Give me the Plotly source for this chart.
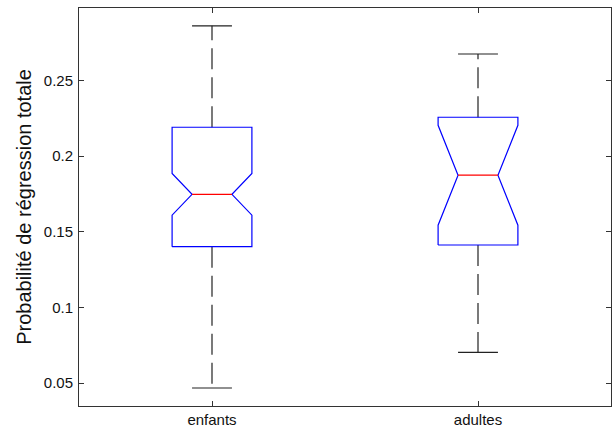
import plotly.graph_objects as go

categories = ["enfants", "adultes"]
positions = [1, 2]
q1 = [0.1401, 0.1412]
median = [0.1747, 0.1873]
q3 = [0.2190, 0.2256]
notch_half = [0.0138, 0.0330]
whisker_low = [0.0467, 0.0702]
whisker_high = [0.2860, 0.2674]

box_half = 0.15
notch_frac = 0.5
cap_half = 0.075

fig = go.Figure()
for i, x in enumerate(positions):
    lo = median[i] - notch_half[i]
    hi = median[i] + notch_half[i]
    w = box_half
    nw = box_half * notch_frac
    xs = [x - w, x - w, x - nw, x - w, x - w, x + w, x + w, x + nw, x + w, x + w, x - w]
    ys = [q1[i], lo, median[i], hi, q3[i], q3[i], hi, median[i], lo, q1[i], q1[i]]
    fig.add_trace(go.Scatter(x=[x, x], y=[q3[i], whisker_high[i]], mode="lines",
                             line=dict(color="#222", width=1.2, dash="21px,8px"),
                             showlegend=False, hoverinfo="skip"))
    fig.add_trace(go.Scatter(x=[x, x], y=[q1[i], whisker_low[i]], mode="lines",
                             line=dict(color="#222", width=1.2, dash="21px,8px"),
                             showlegend=False, hoverinfo="skip"))
    fig.add_trace(go.Scatter(x=[x - cap_half, x + cap_half], y=[whisker_high[i]] * 2, mode="lines",
                             line=dict(color="#222", width=1.2), showlegend=False, hoverinfo="skip"))
    fig.add_trace(go.Scatter(x=[x - cap_half, x + cap_half], y=[whisker_low[i]] * 2, mode="lines",
                             line=dict(color="#222", width=1.2), showlegend=False, hoverinfo="skip"))
    fig.add_trace(go.Scatter(x=xs, y=ys, mode="lines", line=dict(color="#0000ff", width=1.2),
                             showlegend=False, hoverinfo="skip"))
    fig.add_trace(go.Scatter(x=[x - nw, x + nw], y=[median[i]] * 2, mode="lines",
                             line=dict(color="#ff0000", width=1.2), showlegend=False, hoverinfo="skip"))

axis_common = dict(showgrid=False, zeroline=False, showline=True, linecolor="#333", linewidth=1,
                   mirror="ticks", ticks="inside", ticklen=5, tickcolor="#333", automargin=False,
                   tickfont=dict(family="Liberation Sans, Arial", size=15, color="#111"))

fig.update_xaxes(range=[0.5, 2.5], tickvals=positions, ticktext=categories, **axis_common)
fig.update_yaxes(range=[0.0348, 0.2978], tick0=0.05, dtick=0.05, ticklabelstandoff=2,
                 title=dict(text="Probabilité de régression totale",
                            font=dict(family="Liberation Sans, Arial", size=20, color="#111"),
                            standoff=6),
                 **axis_common)

fig.update_layout(width=613, height=434, margin=dict(l=79, r=2, t=8, b=28),
                  paper_bgcolor="white", plot_bgcolor="white", hovermode=False)

fig.write_html("out.html", config={"responsive": False, "displayModeBar": False},
               post_script="document.body.style.margin='0';document.documentElement.style.overflow='hidden';")
